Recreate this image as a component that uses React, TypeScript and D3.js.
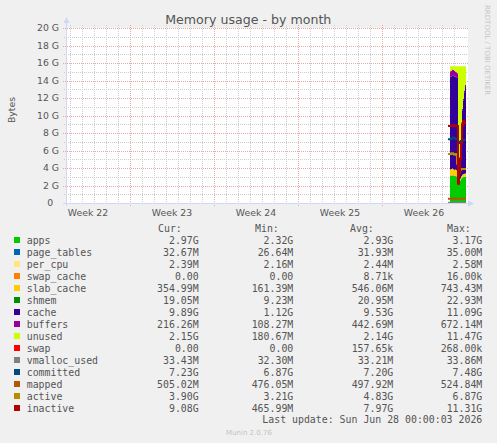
import React, { useRef, useEffect } from "react";
import * as d3 from "d3";

// Start of each 2-hour sample, in hours before the last update
const areaHours = [-32, -30, -28, -26, -24, -22, -20, -18, -16, -14, -12, -10, -8, -6, -4, -2];
const lineHours = [-36, -34, -32, -30, -28, -26, -24, -22, -20, -18, -16, -14, -12, -10, -8, -6, -4, -2];

// Stacked areas (GiB)
const apps = [3.1, 3.12, 3.15, 3.1, 3.05, 3.08, 3.02, 3.0, 2.4, 2.32, 2.55, 2.75, 2.88, 2.93, 2.95, 2.97];
const pageTables = [0.034, 0.034, 0.035, 0.034, 0.033, 0.033, 0.033, 0.032, 0.027, 0.026, 0.028, 0.03, 0.031, 0.032, 0.032, 0.0327];
const perCpu = [0.0025, 0.0025, 0.0025, 0.0024, 0.0024, 0.0024, 0.0024, 0.0024, 0.0022, 0.0021, 0.0023, 0.0024, 0.0024, 0.0024, 0.0024, 0.0024];
const swapCache = [0, 0, 0, 0, 0, 0, 0, 0, 0, 0, 0.000015, 0, 0, 0, 0, 0];
const slabCache = [0.7, 0.72, 0.74, 0.71, 0.7, 0.69, 0.7, 0.68, 0.3, 0.16, 0.2, 0.27, 0.31, 0.33, 0.35, 0.355];
const shmem = [0.022, 0.022, 0.023, 0.022, 0.022, 0.021, 0.021, 0.021, 0.012, 0.009, 0.012, 0.016, 0.018, 0.019, 0.019, 0.019];
const cache = [10.6, 10.6, 10.65, 10.7, 10.65, 10.6, 10.6, 10.55, 4.0, 2.6, 4.2, 6.0, 7.3, 8.4, 9.3, 9.89];
const buffers = [0.6, 0.62, 0.65, 0.67, 0.64, 0.6, 0.58, 0.55, 0.2, 0.11, 0.13, 0.16, 0.19, 0.2, 0.21, 0.216];
const unused = [0.58, 0.52, 0.39, 0.4, 0.54, 0.61, 0.68, 0.8, 8.68, 10.39, 8.5, 6.4, 4.9, 3.72, 2.77, 2.15];

// Lines (GiB)
const swap = [0.0002, 0.0002, 0.00025, 0.00025, 0.00025, 0.0002, 0.0002, 0.0002, 0.0002, 0.0002, 0, 0, 0, 0, 0, 0, 0, 0];
const vmallocUsed = [0.033, 0.033, 0.0335, 0.0336, 0.0338, 0.0335, 0.0333, 0.0332, 0.0331, 0.033, 0.0323, 0.0325, 0.0328, 0.033, 0.0332, 0.0333, 0.0334, 0.0334];
const committed = [7.3, 7.3, 7.3, 7.35, 7.4, 7.48, 7.4, 7.35, 7.3, 7.3, 6.87, 6.95, 7.0, 7.1, 7.15, 7.2, 7.22, 7.23];
const mapped = [0.5, 0.5, 0.5, 0.49, 0.5, 0.51, 0.52, 0.5, 0.5, 0.49, 0.476, 0.48, 0.49, 0.5, 0.5, 0.505, 0.505, 0.505];
const active = [5.6, 5.6, 5.6, 5.65, 5.7, 5.6, 5.55, 5.6, 5.5, 4.5, 3.21, 3.6, 3.8, 3.9, 3.9, 3.9, 3.9, 3.9];
const inactive = [8.8, 8.8, 8.8, 8.85, 8.8, 8.9, 8.85, 8.8, 8.85, 8.8, 2.2, 3.4, 5.0, 6.8, 8.9, 9.4, 9.2, 9.08];

const areaKeys = ["apps", "page_tables", "per_cpu", "swap_cache", "slab_cache", "shmem", "cache", "buffers", "unused"];
const areaValues = [apps, pageTables, perCpu, swapCache, slabCache, shmem, cache, buffers, unused];
const lineValues = [swap, vmallocUsed, committed, mapped, active, inactive];

// Legend
const legendNames = ["apps", "page_tables", "per_cpu", "swap_cache", "slab_cache", "shmem", "cache", "buffers", "unused", "swap", "vmalloc_used", "committed", "mapped", "active", "inactive"];
const legendColors = ["#00CC00", "#0066B3", "#FFE680", "#FF8000", "#FFCC00", "#008F00", "#330099", "#990099", "#CCFF00", "#FF0000", "#808080", "#00487D", "#B35A00", "#B38F00", "#B30000"];
const curValues = ["2.97G", "32.67M", "2.39M", "0.00 ", "354.99M", "19.05M", "9.89G", "216.26M", "2.15G", "0.00 ", "33.43M", "7.23G", "505.02M", "3.90G", "9.08G"];
const minValues = ["2.32G", "26.64M", "2.16M", "0.00 ", "161.39M", "9.23M", "1.12G", "108.27M", "180.67M", "0.00 ", "32.30M", "6.87G", "476.05M", "3.21G", "465.99M"];
const avgValues = ["2.93G", "31.93M", "2.44M", "8.71k", "546.06M", "20.95M", "9.53G", "442.69M", "2.14G", "157.65k", "33.21M", "7.20G", "497.92M", "4.83G", "7.97G"];
const maxValues = ["3.17G", "35.00M", "2.58M", "16.00k", "743.43M", "22.93M", "11.09G", "672.14M", "11.47G", "268.00k", "33.86M", "7.48G", "524.84M", "6.87G", "11.31G"];

// Axis
const weekLabels = ["Week 22", "Week 23", "Week 24", "Week 25", "Week 26"];
const weekMidDays = [-31.5, -24.5, -17.5, -10.5, -3.5];
const yTicks = [0, 2, 4, 6, 8, 10, 12, 14, 16, 18, 20];

const Chart = ({ width = 497, height = 443 }) => {
  const ref = useRef<SVGSVGElement>(null);

  useEffect(() => {
    const container = ref.current;
    if (!container) return;
    d3.select(container).selectChildren().remove();

    const svg = d3.select(container);
    const sans = "DejaVu Sans, sans-serif";
    const mono = "DejaVu Sans Mono, monospace";
    const fontColor = "#555";

    // plot area: 1px = 2 hours
    const x = d3.scaleLinear().domain([-798, 0]).range([67, 466]);
    const y = d3.scaleLinear().domain([0, 20]).range([203, 28]);
    const px = (v: number) => Math.round(v) + 0.5;

    svg.append("rect").attr("width", width).attr("height", height).attr("fill", "#F0F0F0");
    svg.append("rect").attr("x", 67).attr("y", 28).attr("width", 401).attr("height", 175).attr("fill", "#FFFFFF");

    // Grid
    const grid = svg.append("g").attr("shape-rendering", "crispEdges").attr("stroke-dasharray", "1,1");
    const days = d3.range(-33, 0);
    grid.selectAll(".vmin").data(days.filter((d) => d % 7 !== 0)).join("line")
      .attr("x1", (d) => px(x(d * 24))).attr("x2", (d) => px(x(d * 24)))
      .attr("y1", 25).attr("y2", 205).attr("stroke", "#CCCCCC");
    const gigs = d3.range(1, 20);
    grid.selectAll(".hmin").data(gigs.filter((g) => g % 2 !== 0)).join("line")
      .attr("x1", 64).attr("x2", 468)
      .attr("y1", (d) => px(y(d))).attr("y2", (d) => px(y(d))).attr("stroke", "#CCCCCC");
    grid.selectAll(".vmaj").data(days.filter((d) => d % 7 === 0)).join("line")
      .attr("x1", (d) => px(x(d * 24))).attr("x2", (d) => px(x(d * 24)))
      .attr("y1", 25).attr("y2", 206).attr("stroke", "#E8A8A8");
    grid.selectAll(".hmaj").data(yTicks.filter((g) => g > 0)).join("line")
      .attr("x1", 63).attr("x2", 468)
      .attr("y1", (d) => px(y(d))).attr("y2", (d) => px(y(d))).attr("stroke", "#E8A8A8");

    // Stacked areas
    const rows: any[] = areaHours.map((h, i) => {
      const r: any = { h };
      areaKeys.forEach((k, j) => (r[k] = areaValues[j][i]));
      return r;
    });
    rows.push({ ...rows[rows.length - 1], h: 0 });
    const stacked = d3.stack().keys(areaKeys)(rows);
    const area = d3.area<any>()
      .x((d) => x(d.data.h))
      .y0((d) => y(d[0]))
      .y1((d) => y(d[1]))
      .curve(d3.curveStepAfter);
    svg.append("g").selectAll("path").data(stacked).join("path")
      .attr("d", area as any)
      .attr("fill", (_d, i) => legendColors[i]);

    // Lines
    const line = d3.line<[number, number]>()
      .x((d) => x(d[0]))
      .y((d) => y(d[1]))
      .curve(d3.curveStepAfter);
    svg.append("g").selectAll("path").data(lineValues).join("path")
      .attr("d", (s) => line(lineHours.map((h, i) => [h, s[i]] as [number, number]).concat([[0, s[s.length - 1]]])))
      .attr("fill", "none")
      .attr("stroke", (_d, i) => legendColors[9 + i])
      .attr("stroke-width", 2);

    // Axes
    const axisColor = "#CFD6F8";
    svg.append("line").attr("x1", 63).attr("x2", 469).attr("y1", 203.5).attr("y2", 203.5).attr("stroke", axisColor);
    svg.append("path").attr("d", "M468,200.5L474,203.5L468,206.5Z").attr("fill", axisColor);
    svg.append("line").attr("x1", 66.5).attr("x2", 66.5).attr("y1", 206).attr("y2", 23).attr("stroke", axisColor);
    svg.append("path").attr("d", "M63.5,23L66.5,17L69.5,23Z").attr("fill", axisColor);

    svg.append("g").selectAll("text").data(yTicks).join("text")
      .attr("x", 59).attr("y", (d) => y(d) + 3.4)
      .attr("text-anchor", "end")
      .style("font", `9.3px ${sans}`).attr("fill", fontColor)
      .style("white-space", "pre")
      .text((d) => (d === 0 ? "0  " : `${d} G`));

    svg.append("g").selectAll("text").data(weekLabels).join("text")
      .attr("x", (_d, i) => x(weekMidDays[i] * 24)).attr("y", 216)
      .attr("text-anchor", "middle")
      .style("font", `9.3px ${sans}`).attr("fill", fontColor)
      .text((d) => d);

    svg.append("text")
      .attr("transform", "translate(14.5,110) rotate(-90)")
      .attr("text-anchor", "middle")
      .style("font", `9.3px ${sans}`).attr("fill", fontColor)
      .text("Bytes");

    // Title
    svg.append("text")
      .attr("x", 248.3).attr("y", 24)
      .attr("text-anchor", "middle")
      .style("font", `12.6px ${sans}`).attr("fill", fontColor)
      .text("Memory usage - by month");

    svg.append("text")
      .attr("transform", "translate(485,5) rotate(90)")
      .style("font", `7px ${sans}`).attr("fill", "#C4C4C4")
      .text("RRDTOOL / TOBI OETIKER");

    // Legend
    const legend = svg.append("g").style("font", `9.9px ${mono}`).attr("fill", fontColor).style("white-space", "pre");
    const headers = ["Cur:", "Min:", "Avg:", "Max:"];
    const headerX = [158, 255, 350, 447];
    legend.selectAll(".hdr").data(headers).join("text")
      .attr("x", (_d, i) => headerX[i]).attr("y", 231.5).text((d) => d);

    const rowG = legend.selectAll(".row").data(legendNames).join("g")
      .attr("transform", (_d, i) => `translate(0,${240 + 12 * i})`);
    rowG.append("rect").attr("x", 14).attr("y", -3).attr("width", 6).attr("height", 6)
      .attr("fill", (_d, i) => legendColors[i]);
    rowG.append("text").attr("x", 26.7).attr("y", 3.5).text((d) => d);
    const cols = [curValues, minValues, avgValues, maxValues];
    const colRight = [198.7, 293.3, 393.3, 482.3];
    cols.forEach((vals, c) => {
      rowG.append("text").attr("x", colRight[c]).attr("y", 3.5)
        .attr("text-anchor", "end").text((_d, i) => vals[i]);
    });

    legend.append("text").attr("x", 482.3).attr("y", 423).attr("text-anchor", "end")
      .text("Last update: Sun Jun 28 00:00:03 2026");

    svg.append("text").attr("x", 249).attr("y", 434.5).attr("text-anchor", "middle")
      .style("font", `7px ${sans}`).attr("fill", "#C4C4C4")
      .text("Munin 2.0.76");
  }, [width, height]);

  return <svg ref={ref} width={width} height={height} style={{ display: "block" }} />;
};

export default function App() {
  return (
    <>
      <style>{"body{margin:0}"}</style>
      <Chart />
    </>
  );
}
